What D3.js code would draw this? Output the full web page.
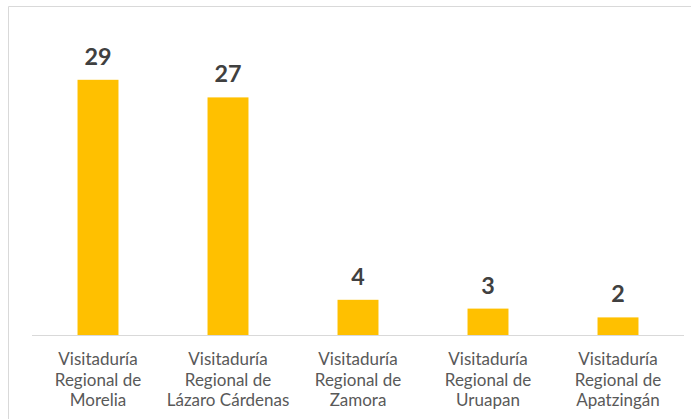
<!DOCTYPE html>
<html><head><meta charset="utf-8">
<script src="https://cdn.jsdelivr.net/npm/d3@7"></script>
<style>html,body{margin:0;padding:0;background:#fff;}svg{display:block;}</style>
</head><body>
<script>
const categories = [
  ["Visitaduría","Regional de","Morelia"],
  ["Visitaduría","Regional de","Lázaro Cárdenas"],
  ["Visitaduría","Regional de","Zamora"],
  ["Visitaduría","Regional de","Uruapan"],
  ["Visitaduría","Regional de","Apatzingán"]
];
const values = [29, 27, 4, 3, 2];

const W = 691, H = 419;
const svg = d3.select("body").append("svg").attr("width", W).attr("height", H);

// chart frame
svg.append("path").attr("d", `M8.5,${H} V6.5 H${W}`).attr("fill","none").attr("stroke","#d9d9d9").attr("stroke-width",1);

const x = d3.scaleBand().domain(d3.range(values.length)).range([33, 683]).paddingInner(0.685).paddingOuter(0.685/2);
const y = d3.scaleLinear().domain([0, 32]).range([335, 53.4]);

svg.selectAll("rect.bar").data(values).join("rect")
  .attr("class","bar")
  .attr("x", (d,i) => x(i))
  .attr("width", x.bandwidth())
  .attr("y", d => y(d))
  .attr("height", d => y(0) - y(d))
  .attr("fill", "#FFC000");

svg.append("line").attr("x1", 32).attr("x2", 684).attr("y1", 335.5).attr("y2", 335.5)
  .attr("stroke", "#d9d9d9").attr("stroke-width", 1);

svg.selectAll("text.val").data(values).join("text")
  .attr("class","val")
  .attr("x", (d,i) => x(i) + x.bandwidth()/2)
  .attr("y", d => y(d) - 15)
  .attr("text-anchor","middle")
  .attr("font-family","Lato, 'Open Sans', sans-serif")
  .attr("font-weight","bold")
  .attr("font-size", 23.3)
  .attr("fill","#404040")
  .text(d => d);

const g = svg.selectAll("g.lab").data(categories).join("g").attr("class","lab")
  .attr("transform", (d,i) => `translate(${x(i) + x.bandwidth()/2},0)`);
g.selectAll("text").data(d => d).join("text")
  .attr("x", 0)
  .attr("y", (d,j) => 365 + j*20.5)
  .attr("text-anchor","middle")
  .attr("font-family","Lato, 'Open Sans', sans-serif")
  .attr("font-size", 17)
  .attr("fill","#595959")
  .text(d => d);
</script>
</body></html>
